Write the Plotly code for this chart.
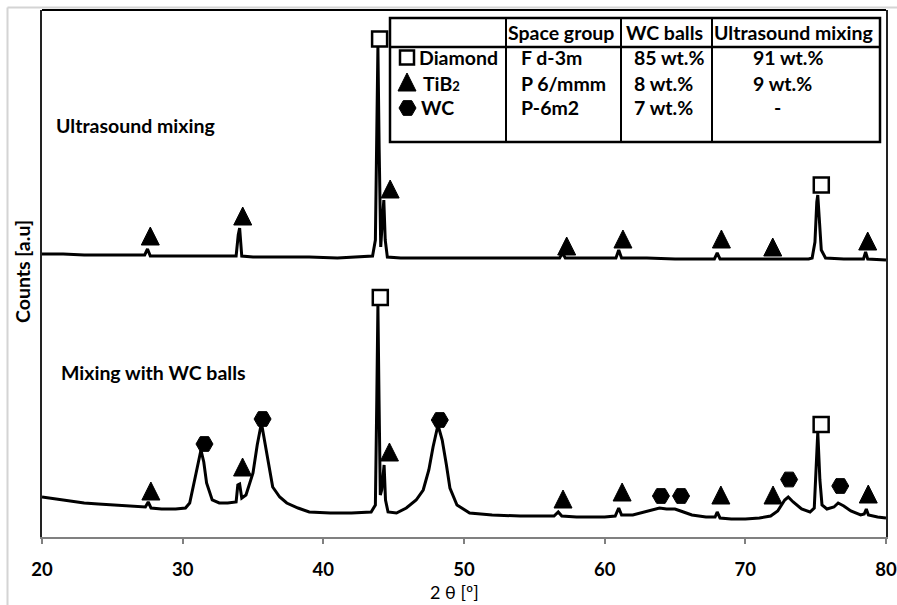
import plotly.graph_objects as go

# ---------------- data ----------------
# 2-theta (deg) and counts (arbitrary units) -- "Ultrasound mixing" pattern
us_x = [20, 21.5, 23, 25, 26.5, 27.3, 27.5, 27.7, 29, 31, 32.5, 33.8, 33.95, 34.05, 34.2,
        35, 37, 39, 41, 42.5, 43.5, 43.7, 43.8, 43.88, 43.97, 44.08, 44.2, 44.3, 44.4, 44.55,
        45.5, 48, 51, 54, 56.8, 57.0, 57.2, 59, 60.8, 61.0, 61.2, 63, 65, 67.8, 68.0, 68.2,
        70, 72, 74.5, 74.75, 74.95, 75.08, 75.15, 75.25, 75.4, 75.7, 77, 78.4, 78.55, 78.7, 80]
us_y = [283, 283, 282, 282, 282, 282, 288, 281, 281, 281, 281, 281, 302, 309, 281,
        280, 280, 280, 279, 280, 281, 297, 387, 490, 387, 290, 317, 337, 297, 280,
        279, 279, 279, 279, 279, 284, 279, 279, 279, 287, 279, 279, 278, 278, 284, 278,
        278, 278, 278, 279, 295, 335, 342, 320, 287, 279, 278, 278, 285, 278, 277]

# "Mixing with WC balls" pattern
wc_x = [20, 21, 22, 23, 24, 25, 26, 27, 27.35, 27.55, 27.75, 28.5, 29.5, 30.2, 30.5, 30.85,
        31.1, 31.3, 31.5, 31.7, 32.1, 32.6, 33.2, 33.8, 33.92, 34.05, 34.2, 34.5, 35.0, 35.3,
        35.6, 35.95, 36.4, 36.9, 37.4, 38.2, 39.0, 40.5, 42, 43.4, 43.7, 43.8, 43.88, 43.96,
        44.05, 44.15, 44.25, 44.32, 44.42, 44.6, 45.2, 45.9, 46.6, 47.1, 47.5, 47.8, 48.15,
        48.45, 48.75, 49.0, 49.5, 50.4, 52, 54, 56.4, 56.7, 56.95, 58, 60, 60.75, 61.0, 61.2,
        62, 62.8, 63.5, 63.9, 64.4, 65.0, 65.4, 66.2, 67.2, 67.85, 68.0, 68.2, 69, 70, 71.0,
        71.8, 72.3, 72.8, 73.05, 73.4, 74.0, 74.6, 74.9, 75.05, 75.15, 75.3, 75.45, 75.8,
        76.3, 76.6, 77.0, 77.5, 78.2, 78.45, 78.6, 78.75, 79.4, 80]
wc_y = [40, 38, 36, 34, 33, 32, 31, 30, 30, 35, 29, 28, 28, 29, 34, 57,
        75, 87, 75, 54, 37, 34, 34, 35, 52, 53, 39, 42, 64, 92,
        114, 84, 50, 40, 34, 29, 25, 24, 24, 25, 32, 137, 232, 137,
        42, 47, 67, 72, 37, 25, 24, 29, 37, 47, 67, 90, 112,
        97, 72, 49, 32, 24, 22, 21, 21, 25, 21, 20, 20, 21, 29, 22,
        22, 25, 28, 29, 28, 28, 26, 22, 20, 20, 25, 19, 18, 18, 19,
        21, 26, 37, 40, 35, 28, 25, 29, 67, 105, 57, 32, 28,
        30, 34, 31, 26, 22, 23, 28, 22, 20, 19]

# phase markers (triangle values = apex of the triangle)
us_tri_x = [27.7, 34.27, 44.75, 57.3, 61.3, 68.3, 71.95, 78.7]
us_tri_y = [310, 330, 357, 300, 307, 307, 299, 305]
us_sq_x = [44.0, 75.4]
us_sq_y = [498, 352]
wc_tri_x = [27.74, 34.26, 44.7, 57.04, 61.24, 68.26, 71.97, 78.74]
wc_tri_y = [55, 79, 94, 47, 54, 51, 51, 52]
wc_sq_x = [44.05, 75.39]
wc_sq_y = [239.5, 112.5]
wc_hex_x = [31.55, 35.68, 48.28, 64.0, 65.43, 73.11, 76.75]
wc_hex_y = [93, 118, 117, 41, 41, 57.5, 51]

x_ticks = [20, 30, 40, 50, 60, 70, 80]

# table content
table_header = ["Space group", "WC balls", "Ultrasound mixing"]
phases = ["Diamond", "TiB<span style='font-size:13px'>2</span>", "WC"]
space_groups = ["F d-3m", "P 6/mmm", "P-6m2"]
wc_balls = ["85 wt.%", "8 wt.%", "7 wt.%"]
ultrasound = ["91 wt.%", "9 wt.%", "-"]

# ---------------- layout geometry ----------------
W, H = 897, 605
L, R, T, B = 42, 11, 10, 68
PW, PH = W - L - R, H - T - B
FONT = "Lato"


def px(x):
    return (x - L) / PW


def py(y):
    return (H - B - y) / PH


fig = go.Figure()
line = dict(color="black", width=3)
fig.add_trace(go.Scatter(x=us_x, y=us_y, mode="lines", line=line, hoverinfo="skip"))
fig.add_trace(go.Scatter(x=wc_x, y=wc_y, mode="lines", line=line, hoverinfo="skip"))

tri = dict(symbol="arrow-up", size=18, color="black", line=dict(color="black", width=1))
sq = dict(symbol="square-open", size=15, color="black", line=dict(color="black", width=2.5))
hexm = dict(symbol="hexagon2", size=17, color="black", line=dict(color="black", width=1))
fig.add_trace(go.Scatter(x=us_tri_x, y=us_tri_y, mode="markers", marker=tri, cliponaxis=False))
fig.add_trace(go.Scatter(x=wc_tri_x, y=wc_tri_y, mode="markers", marker=tri, cliponaxis=False))
fig.add_trace(go.Scatter(x=us_sq_x + wc_sq_x, y=us_sq_y + wc_sq_y, mode="markers",
                         marker=sq, cliponaxis=False))
fig.add_trace(go.Scatter(x=wc_hex_x, y=wc_hex_y, mode="markers", marker=hexm, cliponaxis=False))

# ---------------- table ----------------
tx0, tx1, ty0, ty1 = 390, 880, 18, 142
col_lines = [506, 621, 712]
head_bottom = 47
shapes = []
shapes.append(dict(type="rect", xref="paper", yref="paper", x0=px(tx0), x1=px(tx1),
                   y0=py(ty1), y1=py(ty0), line=dict(color="black", width=2.5),
                   fillcolor="white", layer="below"))
for c in col_lines:
    shapes.append(dict(type="line", xref="paper", yref="paper", x0=px(c), x1=px(c),
                       y0=py(ty1), y1=py(ty0), line=dict(color="black", width=2), layer="above"))
shapes.append(dict(type="line", xref="paper", yref="paper", x0=px(tx0), x1=px(tx1),
                   y0=py(head_bottom), y1=py(head_bottom), line=dict(color="black", width=2.5),
                   layer="above"))
# plot frame top line and image grey border
shapes.append(dict(type="line", xref="paper", yref="paper", x0=0, x1=1, y0=1, y1=1,
                   line=dict(color="black", width=2)))
shapes.append(dict(type="line", xref="paper", yref="paper", x0=px(7.5), x1=px(W), y0=py(7.5),
                   y1=py(7.5), line=dict(color="#d4d4d4", width=2)))
shapes.append(dict(type="line", xref="paper", yref="paper", x0=px(7.5), x1=px(7.5), y0=py(7.5),
                   y1=py(H), line=dict(color="#d4d4d4", width=2)))

ann = []


def text(t, x, y, size=19.5, bold=True, xanchor="left", **kw):
    ann.append(dict(text=("<b>%s</b>" % t) if bold else t, x=px(x), y=py(y), xref="paper",
                    yref="paper", showarrow=False, xanchor=xanchor, yanchor="middle",
                    borderpad=0, font=dict(family=FONT, size=size, color="black"), **kw))


head_x = [507, 625, 713]
row_y = [58, 83, 108]
for t, x in zip(table_header, head_x):
    text(t, x, 32)
phase_x = [418, 422, 420]
for i in range(3):
    text(phases[i], phase_x[i], row_y[i])
    text(space_groups[i], 520, row_y[i])
    text(wc_balls[i], 633, row_y[i])
    text(ultrasound[i], 752 if ultrasound[i] != "-" else 773, row_y[i])

# table legend symbols on an overlay axis in pixel units
fig.add_trace(go.Scatter(x=[407], y=[57.5], xaxis="x2", yaxis="y2", mode="markers",
                         marker=dict(symbol="square-open", size=14, color="black",
                                     line=dict(color="black", width=2.5))))
fig.add_trace(go.Scatter(x=[407], y=[73], xaxis="x2", yaxis="y2", mode="markers", marker=tri))
fig.add_trace(go.Scatter(x=[407.5], y=[108], xaxis="x2", yaxis="y2", mode="markers", marker=hexm))

# labels
text("Ultrasound mixing", 55, 126, size=19.5)
text("Mixing with WC balls", 60, 373, size=19.5)
text("2 θ [º]", 454, 592, size=18, bold=False, xanchor="center")
ann.append(dict(text="<b>Counts [a.u]</b>", x=px(22), y=py(272), xref="paper", yref="paper",
                showarrow=False, textangle=-90, xanchor="center", yanchor="middle",
                font=dict(family=FONT, size=19.5, color="black")))

fig.update_layout(
    width=W, height=H, margin=dict(l=L, r=R, t=T, b=B, autoexpand=False),
    paper_bgcolor="white", plot_bgcolor="white", showlegend=False,
    shapes=shapes, annotations=ann,
    xaxis=dict(range=[20, 80], tickvals=x_ticks, ticks="outside", ticklen=5, tickwidth=1.5,
               tickcolor="#808080", showline=True, linecolor="#808080", linewidth=2,
               showgrid=False, zeroline=False, ticklabelstandoff=10, automargin=False,
               tickfont=dict(family=FONT, size=18.5, color="black", weight="bold")),
    yaxis=dict(range=[0, 527], showticklabels=False, ticks="", showline=True, automargin=False,
               linecolor="#222222", linewidth=2, mirror=True, showgrid=False, zeroline=False),
    xaxis2=dict(range=[L, W - R], overlaying="x", visible=False),
    yaxis2=dict(range=[H - B, T], overlaying="y", visible=False),
)

fig.write_html("out.html", config={"displayModeBar": False},
               post_script="document.body.style.margin='0';")
